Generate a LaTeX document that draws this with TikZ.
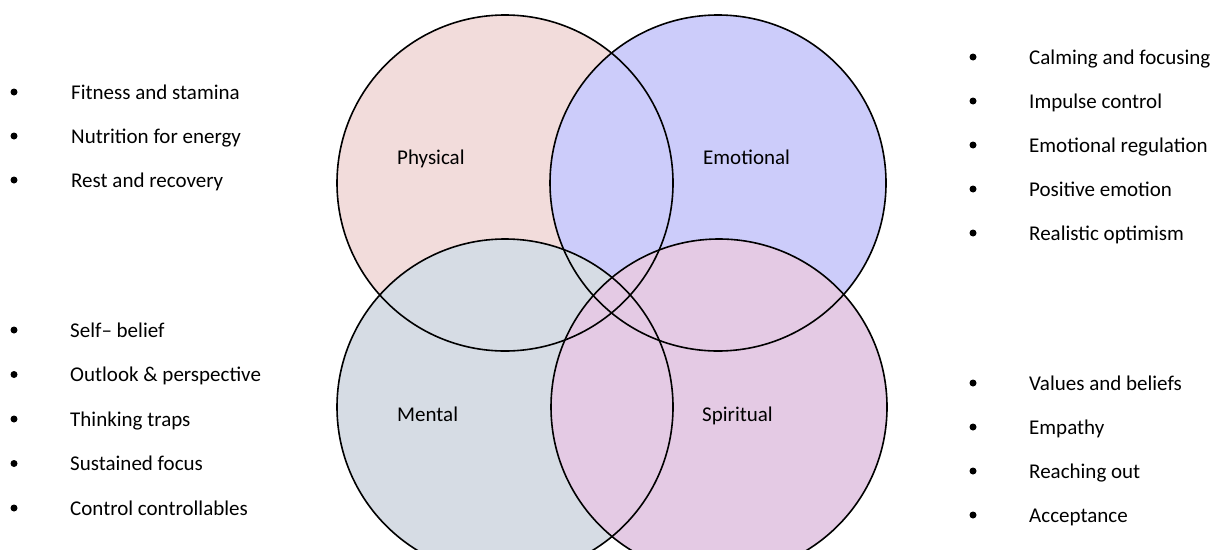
\documentclass[tikz,border=0pt]{standalone}
\usepackage{fontspec}
\setmainfont{Carlito}
\definecolor{physfill}{HTML}{F2DCDB}
\definecolor{emofill}{HTML}{CCCCFA}
\definecolor{mentfill}{HTML}{D6DCE4}
\definecolor{spirfill}{HTML}{E4CAE4}

\begin{document}
\begin{tikzpicture}[x=1pt,y=-1pt,
 font=\fontsize{21}{25}\selectfont,
 ring/.style={draw=black,line width=1.6pt},
 bul/.style={circle,fill=black,inner sep=0pt,minimum size=7pt},
 item/.style={anchor=base west,inner sep=0pt,yshift=-7pt},
 lbl/.style={anchor=base west,inner sep=0pt,yshift=-7pt}]
\useasboundingbox (0,0) rectangle (1222,549);
\coordinate (phy) at (505,183);
\coordinate (emo) at (718,183);
\coordinate (men) at (505,407);
\coordinate (spi) at (719,407);
% the four circles, fills first, then outlines
\begin{scope}
\clip (0,0) rectangle (1222,549);
\fill[physfill] (phy) circle[radius=168pt];
\fill[emofill] (emo) circle[radius=168pt];
\fill[mentfill] (men) circle[radius=168pt];
\fill[spirfill] (spi) circle[radius=168pt];
\draw[ring] (phy) circle[radius=168pt];
\draw[ring] (emo) circle[radius=168pt];
\draw[ring] (men) circle[radius=168pt];
\draw[ring] (spi) circle[radius=168pt];
\end{scope}
\node[lbl] (phyl) at (397,157) {Physical};
\node[lbl] (emol) at (703,157) {Emotional};
\node[lbl] (menl) at (397,414) {Mental};
\node[lbl] (spil) at (702,414) {Spiritual};
% lists
\foreach \txt [count=\i] in {Fitness and stamina,Nutrition for energy,Rest and recovery}{
 \node[bul] (phyb\i) at (14,{92+44*(\i-1)}) {};
 \node[item] (phyt\i) at (71,{92+44*(\i-1)}) {\txt};
}
\foreach \txt [count=\i] in {Self– belief,Outlook \& perspective,Thinking traps,Sustained focus,Control controllables}{
 \node[bul] (menb\i) at (14,{330+44.5*(\i-1)}) {};
 \node[item] (ment\i) at (70,{330+44.5*(\i-1)}) {\txt};
}
\foreach \txt [count=\i] in {Calming and focusing,Impulse control,Emotional regulation,Positive emotion,Realistic optimism}{
 \node[bul] (emob\i) at (973,{57+44*(\i-1)}) {};
 \node[item] (emot\i) at (1029,{57+44*(\i-1)}) {\txt};
}
\foreach \txt [count=\i] in {Values and beliefs,Empathy,Reaching out,Acceptance}{
 \node[bul] (spib\i) at (973,{383+44*(\i-1)}) {};
 \node[item] (spit\i) at (1029,{383+44*(\i-1)}) {\txt};
}
\end{tikzpicture}
\end{document}
